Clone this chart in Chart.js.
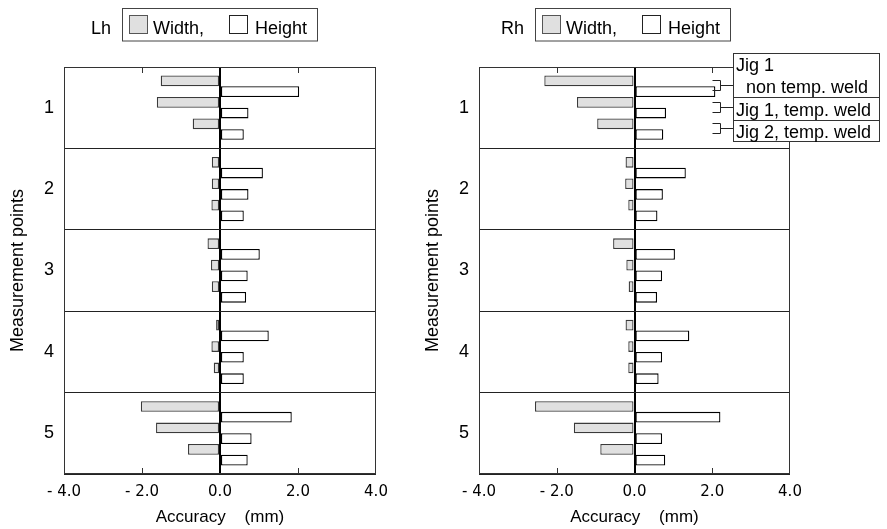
<!DOCTYPE html>
<html>
<head>
<meta charset="utf-8">
<script src="https://cdn.jsdelivr.net/npm/chart.js@4.4.0/dist/chart.umd.min.js"></script>
<style>
  body { margin: 0; background: #fff; }
  #wrap { position: relative; width: 887px; height: 529px; overflow: hidden; }
  #lh { position: absolute; left: 0; top: 0; }
  #rh { position: absolute; left: 415px; top: 0; }
</style>
</head>
<body>
<div id="wrap">
  <canvas id="lh" width="420" height="529"></canvas>
  <canvas id="rh" width="472" height="529"></canvas>
</div>
<script>
const SANS = "'Liberation Sans', Arial, sans-serif";
const GRAY = '#e0e0e0';

const points = ['1', '2', '3', '4', '5'];
const jigs = ['Jig 1 non temp. weld', 'Jig 1, temp. weld', 'Jig 2, temp. weld'];
const xTickLabels = ['- 4.0', '- 2.0', '0.0', '2.0', '4.0'];
const legendNames = ['Width,', 'Height'];

// Lh side, one array per jig
const lhWidthJig1 = [-1.52, -0.21, -0.32, -0.10, -2.03];
const lhHeightJig1 = [2.03, 1.10, 1.02, 1.25, 1.84];
const lhWidthJig1T = [-1.62, -0.21, -0.23, -0.22, -1.64];
const lhHeightJig1T = [0.73, 0.73, 0.71, 0.61, 0.81];
const lhWidthJig2T = [-0.70, -0.22, -0.21, -0.16, -0.82];
const lhHeightJig2T = [0.61, 0.61, 0.67, 0.61, 0.71];

// Rh side
const rhWidthJig1 = [-2.32, -0.23, -0.55, -0.23, -2.56];
const rhHeightJig1 = [2.08, 1.32, 1.04, 1.41, 2.21];
const rhWidthJig1T = [-1.48, -0.24, -0.21, -0.16, -1.56];
const rhHeightJig1T = [0.81, 0.73, 0.71, 0.71, 0.71];
const rhWidthJig2T = [-0.96, -0.16, -0.15, -0.16, -0.88];
const rhHeightJig2T = [0.74, 0.59, 0.58, 0.62, 0.79];

function buildDatasets(widths, heights) {
  const common = { categoryPercentage: 0.79, barPercentage: 1, borderWidth: 1.3, borderSkipped: false };
  const out = [];
  widths.forEach((w, k) => {
    out.push(Object.assign({ label: 'Width ' + jigs[k], data: w, backgroundColor: GRAY, borderColor: '#3a3a3a' }, common));
    out.push(Object.assign({ label: 'Height ' + jigs[k], data: heights[k], backgroundColor: '#fff', borderColor: '#000' }, common));
  });
  return out;
}

function swatch(ctx, x, y, fill, stroke) {
  ctx.fillStyle = fill;
  ctx.fillRect(x, y, 19, 19);
  ctx.strokeStyle = stroke;
  ctx.strokeRect(x + 0.5, y + 0.5, 18, 18);
}

// border, inner ticks, header legend and the jig key
const frame = {
  id: 'frame',
  afterDraw(chart, args, o) {
    const { ctx, chartArea: a, scales: { x } } = chart;
    ctx.save();
    ctx.lineWidth = 1;
    ctx.strokeStyle = '#333';
    ctx.strokeRect(a.left + 0.5, a.top + 0.5, a.right - a.left - 1, a.bottom - a.top - 1);
    [-2, 2].forEach(v => {
      const px = Math.round(x.getPixelForValue(v)) + 0.5;
      ctx.beginPath();
      ctx.moveTo(px, a.top); ctx.lineTo(px, a.top + 6);
      ctx.moveTo(px, a.bottom); ctx.lineTo(px, a.bottom - 6);
      ctx.stroke();
    });

    const h = o.header;
    ctx.font = '18px ' + SANS;
    ctx.fillStyle = '#000';
    ctx.textBaseline = 'alphabetic';
    ctx.textAlign = 'right';
    ctx.fillText(h.label, h.boxX - 11, 33.5);
    ctx.textAlign = 'left';
    ctx.strokeStyle = '#444';
    ctx.strokeRect(h.boxX + 0.5, 8.5, 195, 32.5);
    swatch(ctx, h.boxX + 7, 15, GRAY, '#555');
    swatch(ctx, h.boxX + 107, 15, '#fff', '#222');
    ctx.fillStyle = '#000';
    ctx.fillText(legendNames[0], h.boxX + 31, 33.5);
    ctx.fillText(legendNames[1], h.boxX + 133, 33.5);

    if (o.key) {
      const k = o.key;
      const bx = Math.round(x.getPixelForValue(2)) + 0.5;
      ctx.strokeStyle = '#222';
      for (let j = 0; j < 3; j++) {
        const w = chart.getDatasetMeta(2 * j).data[0];
        const hb = chart.getDatasetMeta(2 * j + 1).data[0];
        const cy = Math.round((w.y + hb.y) / 2) - 0.5;
        ctx.beginPath();
        ctx.moveTo(bx, cy - 5); ctx.lineTo(bx + 8, cy - 5);
        ctx.lineTo(bx + 8, cy + 5); ctx.lineTo(bx, cy + 5);
        ctx.moveTo(bx + 8, cy); ctx.lineTo(k.x, cy);
        ctx.stroke();
      }
      ctx.fillStyle = '#fff';
      ctx.fillRect(k.x, 53, k.w, 89);
      ctx.strokeStyle = '#333';
      ctx.strokeRect(k.x + 0.5, 53.5, k.w, 88);
      ctx.beginPath();
      ctx.moveTo(k.x, 97.5); ctx.lineTo(k.x + k.w, 97.5);
      ctx.moveTo(k.x, 120.5); ctx.lineTo(k.x + k.w, 120.5);
      ctx.stroke();
      ctx.fillStyle = '#000';
      ctx.fillText('Jig 1', k.x + 3, 70.5);
      ctx.fillText('non temp. weld', k.x + 13, 93);
      ctx.fillText(jigs[1], k.x + 3, 115.5);
      ctx.fillText(jigs[2], k.x + 3, 138);
    }
    ctx.restore();
  }
};

function makeChart(id, datasets, padRight, frameOpts) {
  return new Chart(document.getElementById(id), {
    type: 'bar',
    data: { labels: points, datasets: datasets },
    plugins: [frame],
    options: {
      indexAxis: 'y',
      responsive: false,
      animation: false,
      layout: { padding: { top: 67, right: padRight, bottom: 0, left: 0 } },
      plugins: {
        legend: { display: false },
        tooltip: { enabled: false },
        frame: frameOpts
      },
      scales: {
        x: {
          min: -4,
          max: 4,
          afterFit: s => { s.height = 55; },
          ticks: {
            stepSize: 2,
            padding: 9,
            maxRotation: 0,
            autoSkip: false,
            color: '#000',
            font: { family: 'DejaVu Sans', size: 15 },
            callback: (v, i) => xTickLabels[i]
          },
          grid: {
            drawTicks: false,
            color: c => (c.tick && c.tick.value === 0) ? '#000' : 'rgba(0,0,0,0)',
            lineWidth: c => (c.tick && c.tick.value === 0) ? 2 : 1
          },
          border: { display: false },
          title: {
            display: true,
            text: 'Accuracy\u00a0\u00a0\u00a0\u00a0(mm)',
            color: '#000',
            font: { family: SANS, size: 17 },
            padding: { top: 0, bottom: 1 }
          }
        },
        y: {
          afterFit: s => { s.width = 64; },
          ticks: { padding: 10, color: '#000', font: { family: SANS, size: 18 } },
          grid: { drawTicks: false, color: '#222', lineWidth: 1 },
          border: { display: false },
          title: {
            display: true,
            text: 'Measurement points',
            color: '#000',
            font: { family: SANS, size: 18 },
            padding: { top: 7.5, bottom: 0 }
          }
        }
      }
    }
  });
}

makeChart('lh',
  buildDatasets([lhWidthJig1, lhWidthJig1T, lhWidthJig2T], [lhHeightJig1, lhHeightJig1T, lhHeightJig2T]),
  44,
  { header: { label: 'Lh', boxX: 122 } });

makeChart('rh',
  buildDatasets([rhWidthJig1, rhWidthJig1T, rhWidthJig2T], [rhHeightJig1, rhHeightJig1T, rhHeightJig2T]),
  97,
  { header: { label: 'Rh', boxX: 120 }, key: { x: 318, w: 146 } });
</script>
</body>
</html>
